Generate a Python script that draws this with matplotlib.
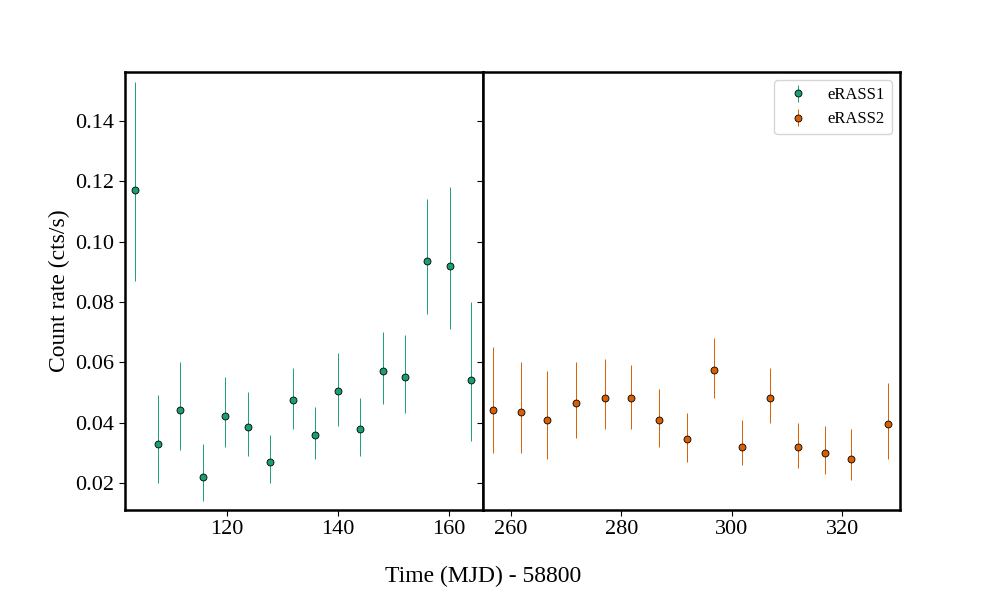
import matplotlib

matplotlib.use("Agg")
import matplotlib.pyplot as plt

plt.rcParams["font.family"] = "Liberation Serif"

# eRASS1
t1 = [103.4, 107.5, 111.5, 115.6, 119.6, 123.7, 127.7, 131.8, 135.8, 139.9,
      143.9, 148.0, 152.0, 156.1, 160.2, 164.0]
r1 = [0.117, 0.033, 0.044, 0.022, 0.042, 0.0385, 0.027, 0.0475, 0.036, 0.0505,
      0.038, 0.057, 0.055, 0.0935, 0.092, 0.054]
lo1 = [0.087, 0.020, 0.031, 0.014, 0.032, 0.029, 0.020, 0.038, 0.028, 0.039,
       0.029, 0.046, 0.043, 0.076, 0.071, 0.034]
hi1 = [0.153, 0.049, 0.060, 0.033, 0.055, 0.050, 0.036, 0.058, 0.045, 0.063,
       0.048, 0.070, 0.069, 0.114, 0.118, 0.080]

# eRASS2
t2 = [256.8, 261.8, 266.5, 271.9, 277.0, 281.8, 286.8, 291.9, 296.8, 301.8,
      306.9, 311.9, 316.9, 321.6, 328.3]
r2 = [0.044, 0.0435, 0.041, 0.0465, 0.048, 0.048, 0.041, 0.0345, 0.0575, 0.032,
      0.048, 0.032, 0.030, 0.028, 0.0395]
lo2 = [0.030, 0.030, 0.028, 0.035, 0.038, 0.038, 0.032, 0.027, 0.048, 0.026,
       0.040, 0.025, 0.023, 0.021, 0.028]
hi2 = [0.065, 0.060, 0.057, 0.060, 0.061, 0.059, 0.051, 0.043, 0.068, 0.041,
       0.058, 0.040, 0.039, 0.038, 0.053]

fig = plt.figure(figsize=(10, 6), dpi=100)
ax1 = fig.add_axes([0.125, 0.15, 0.358, 0.73])
ax2 = fig.add_axes([0.483, 0.15, 0.417, 0.73], sharey=ax1)

for ax, t, r, lo, hi, c, lab in [
    (ax1, t1, r1, lo1, hi1, "#1b9e77", "eRASS1"),
    (ax2, t2, r2, lo2, hi2, "#d95f02", "eRASS2"),
]:
    err = [[v - l for v, l in zip(r, lo)], [h - v for v, h in zip(r, hi)]]
    ax.errorbar(t, r, yerr=err, fmt="o", color=c, ecolor=c, elinewidth=0.7,
                markersize=5, markeredgecolor="black", markeredgewidth=0.6, label=lab)
    for s in ax.spines.values():
        s.set_linewidth(1.8)
    ax.tick_params(labelsize=16, length=4)

ax1.set_xlim(101.6, 166.1)
ax2.set_xlim(255.0, 330.4)
ax1.set_ylim(0.011, 0.1562)
ax1.set_xticks([120, 140, 160])
ax2.set_xticks([260, 280, 300, 320])
ax1.set_yticks([0.02, 0.04, 0.06, 0.08, 0.10, 0.12, 0.14])
ax2.tick_params(labelleft=False)
ax1.set_ylabel("Count rate (cts/s)", fontsize=17)
fig.text(0.483, 0.03, "Time (MJD) - 58800", ha="center", fontsize=17)

h1, l1 = ax1.get_legend_handles_labels()
h2, l2 = ax2.get_legend_handles_labels()
ax2.legend(h1 + h2, l1 + l2, loc="upper right", fontsize=12)

fig.savefig("out.png", dpi=100)
